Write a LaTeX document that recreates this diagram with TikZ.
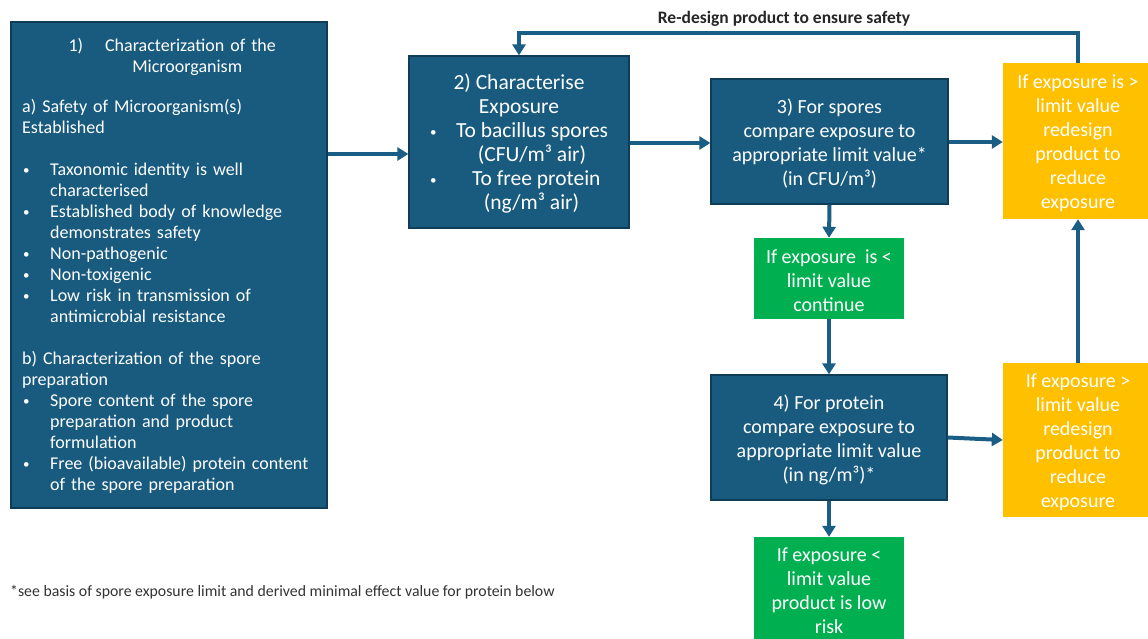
\documentclass[tikz,border=0pt]{standalone}
\usepackage{fontspec}
\setmainfont{Carlito}
\usetikzlibrary{arrows.meta,calc}
\definecolor{dblue}{HTML}{185B7F}
\definecolor{dborder}{HTML}{0F3D57}
\definecolor{gboxc}{HTML}{00B050}
\definecolor{yboxc}{HTML}{FFC000}
\definecolor{arrc}{HTML}{1A5E85}
\definecolor{notec}{HTML}{333333}
\newcommand\dotb{\raisebox{1.2pt}{\fontsize{13}{13}\selectfont •}}
\newcommand\bul{\par\hangindent=28pt\hangafter=1\noindent\makebox[28pt][l]{\hspace{1pt}\dotb}}
\newcommand\tup{\rule{0pt}{19pt}}
\begin{document}
\begin{tikzpicture}[x=1pt,y=-1pt,
  bluebox/.style={draw=dborder, line width=1.2pt, fill=dblue, text=white, inner sep=0pt, align=center},
  greenbox/.style={fill=gboxc, text=white, inner sep=0pt, align=center},
  yellowbox/.style={fill=yboxc, text=white, inner sep=0pt, align=center},
  mid/.style={font=\fontsize{20}{24}\selectfont},
  big/.style={font=\fontsize{21.5}{24}\selectfont},
  arr/.style={draw=arrc, line width=4pt, -{Triangle[length=11pt,width=13pt]}},
]
\useasboundingbox[fill=white] (0,0) rectangle (1148,639);

% box 1
\node[bluebox, minimum width=316, minimum height=486] (b1) at (169,265) {};
\node[anchor=north west, text=white, inner sep=0pt, text width=300,
      font=\fontsize{18}{21}\selectfont] (b1t) at (22,38) {%
  {\centering 1)\hspace{22pt}Characterization of the\\
   \hspace*{30pt}Microorganism\par}
  \vspace{19pt}
  \raggedright
  a) Safety of Microorganism(s)\newline Established\par
  \vspace{21pt}
  \bul Taxonomic identity is well\newline characterised
  \bul Established body of knowledge\newline demonstrates safety
  \bul Non-pathogenic
  \bul Non-toxigenic
  \bul Low risk in transmission of\newline antimicrobial resistance\par
  \vspace{21pt}
  \noindent b) Characterization of the spore\newline preparation
  \bul Spore content of the spore\newline preparation and product\newline formulation
  \bul Free (bioavailable) protein content\newline of the spore preparation\par
};

% box 2
\node[bluebox, big, minimum width=220, minimum height=172] (b2) at (519,142) {%
  \tup 2) Characterise\\
  Exposure\\
  \makebox[178pt][l]{\makebox[26pt][l]{\dotb}To bacillus spores}\\
  \hspace*{26pt}(CFU/m³ air)\\
  \makebox[178pt][l]{\makebox[42pt][l]{\dotb}To free protein}\\
  \hspace*{25pt}(ng/m³ air)};

% box 3
\node[bluebox, mid, minimum width=237, minimum height=125] (b3) at (829.5,141.5) {%
  \tup 3) For spores\\compare exposure to\\appropriate limit value*\\(in CFU/m³)};

% green 1
\node[greenbox, mid, minimum width=150, minimum height=81] (g1) at (829,278.5) {%
  \tup If exposure\ \ is <\\limit value\\continue};

% box 4
\node[bluebox, mid, minimum width=236, minimum height=125] (b4) at (829,437.5) {%
  \tup 4) For protein\\compare exposure to\\appropriate limit value\\(in ng/m³)*};

% green 2
\node[greenbox, mid, minimum width=150, minimum height=102] (g2) at (829,588) {%
  \tup If exposure <\\limit value\\product is low\\risk};

% yellow boxes
\node[yellowbox, mid, minimum width=150, minimum height=156] (y1) at (1078,141) {%
  \tup If exposure is >\\limit value\\redesign\\product to\\reduce\\exposure};
\node[yellowbox, mid, minimum width=150, minimum height=154] (y2) at (1078,440) {%
  \tup If exposure >\\limit value\\redesign\\product to\\reduce\\exposure};

% labels
\node[font=\bfseries\fontsize{17.5}{20}\selectfont, text=black!85] (lbl) at (784,19)
  {Re-design product to ensure safety};
\node[anchor=west, inner sep=0pt, font=\fontsize{15.8}{18}\selectfont, text=notec] (note) at (10,592)
  {*see basis of spore exposure limit and derived minimal effect value for protein below};

% arrows
\draw[arr] (b1.east |- 0,154) -- (b2.west |- 0,154);
\draw[arr] (b2.east |- 0,143) -- (b3.west |- 0,143);
\draw[arr] (b3.east |- 0,142) -- (y1.west |- 0,142);
\draw[arr] (b3.south) -- (g1.north);
\draw[arr] (g1.south) -- (b4.north);
\draw[arr] (b4.south) -- (g2.north);
\draw[arr] (b4.east) -- (y2.west);
\draw[arr] (y2.north) -- (y1.south);
\draw[arr] (y1.north) -- (y1.north |- 0,33) -| (b2.north);
\end{tikzpicture}
\end{document}
